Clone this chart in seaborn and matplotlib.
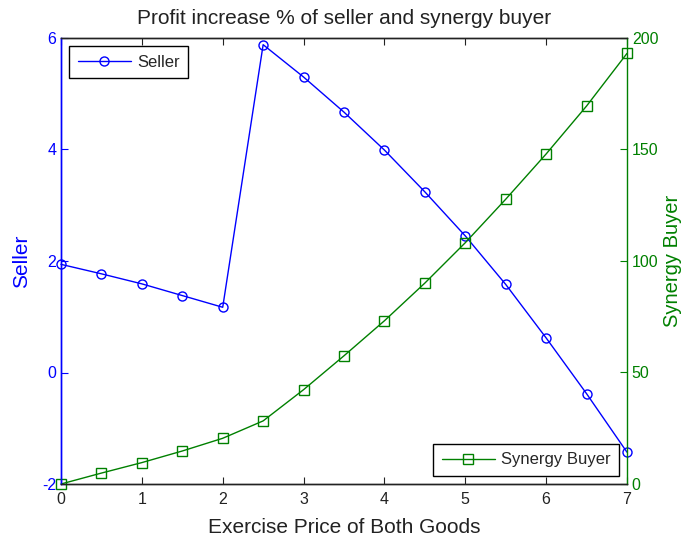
import matplotlib
matplotlib.use("Agg")
import matplotlib.pyplot as plt
import seaborn as sns
import pandas as pd

# exercise price of both goods
price = [0, 0.5, 1, 1.5, 2, 2.5, 3, 3.5, 4, 4.5, 5, 5.5, 6, 6.5, 7]
# profit increase % of seller
seller = [1.94, 1.77, 1.59, 1.38, 1.17, 5.88, 5.30, 4.67, 3.99, 3.24,
          2.45, 1.58, 0.62, -0.38, -1.43]
# profit increase % of synergy buyer
synergy = [0, 4.9, 9.6, 14.8, 20.5, 28.3, 42.3, 57.5, 73.2, 90.1,
           108.2, 127.7, 148, 169.5, 193.1]

sns.set_style("white")
plt.rcParams["font.family"] = ["Liberation Sans", "DejaVu Sans"]
plt.rcParams["axes.unicode_minus"] = False

df = pd.DataFrame({"price": price, "Seller": seller, "Synergy Buyer": synergy})

blue = "#0000ff"
green = "#008000"

fig = plt.figure(figsize=(6.88, 5.4), dpi=100)
ax = fig.add_axes([61 / 688, 1 - 484 / 540, 566 / 688, 446 / 540])
ax2 = ax.twinx()

sns.lineplot(data=df, x="price", y="Seller", ax=ax, color=blue, marker="o",
             markersize=6.5, markerfacecolor="none", markeredgecolor=blue,
             markeredgewidth=1, linewidth=1, label="Seller", clip_on=False)
sns.lineplot(data=df, x="price", y="Synergy Buyer", ax=ax2, color=green, marker="s",
             markersize=6.5, markerfacecolor="none", markeredgecolor=green,
             markeredgewidth=1, linewidth=1, label="Synergy Buyer", clip_on=False)

ax.set_xlim(0, 7)
ax.set_ylim(-2, 6)
ax2.set_ylim(0, 200)
ax.set_yticks([-2, 0, 2, 4, 6])
ax2.set_yticks([0, 50, 100, 150, 200])
ax.set_xticks(range(8))

ax.set_title("Profit increase % of seller and synergy buyer", fontsize=15, pad=10,
             color="#222222")
ax.set_xlabel("Exercise Price of Both Goods", fontsize=15, color="#222222", labelpad=8)
ax.set_ylabel("Seller", fontsize=15, color=blue, labelpad=8)
ax2.set_ylabel("Synergy Buyer", fontsize=14.5, color=green, labelpad=3)

for a in (ax, ax2):
    for s in a.spines.values():
        s.set_linewidth(1)
        s.set_color("#222222")
ax.spines["left"].set_color(blue)
ax2.spines["left"].set_color(blue)
ax2.spines["right"].set_color(green)
ax.spines["right"].set_visible(False)

ax.tick_params(axis="x", direction="in", top=True, bottom=True, length=5,
               labelsize=11.5, colors="#222222", pad=6)
ax.tick_params(axis="y", direction="in", length=5, labelsize=11.5, colors=blue)
ax2.tick_params(axis="y", direction="in", length=5, labelsize=11.5, colors=green)

leg1 = ax.legend(loc="upper left", fontsize=12, fancybox=False, framealpha=1,
                 edgecolor="black", handlelength=3.2, handletextpad=0.35,
                 borderpad=0.5)
leg1.get_frame().set_linewidth(1)
leg2 = ax2.legend(loc="lower right", fontsize=12, fancybox=False, framealpha=1,
                  edgecolor="black", handlelength=3.2, handletextpad=0.35,
                  borderpad=0.5)
leg2.get_frame().set_linewidth(1)

fig.savefig("out.png", dpi=100)
